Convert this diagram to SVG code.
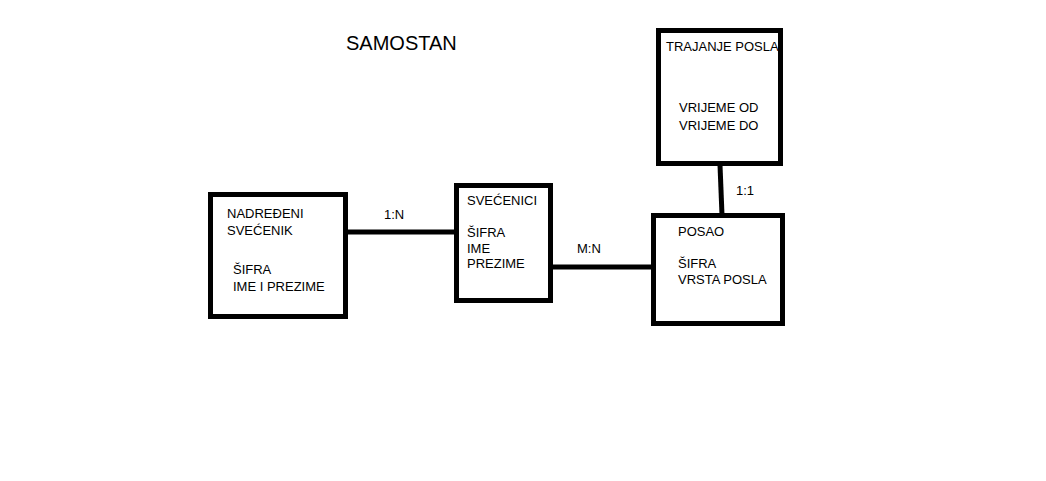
<svg xmlns="http://www.w3.org/2000/svg" width="1046" height="481" viewBox="0 0 1046 481">
<style>
.box{fill:#fff;stroke:#000;stroke-width:5}
.ln{stroke:#000;stroke-width:5;fill:none}
text{font-family:"Liberation Sans",Arial,sans-serif;font-size:13px;fill:#000}
.title{font-size:20px}
</style>
<rect width="1046" height="481" fill="#fff"/>
<text class="title" x="346" y="50">SAMOSTAN</text>
<g id="connectors">
<line class="ln" x1="347" y1="232" x2="455" y2="232"/>
<text x="384" y="219">1:N</text>
<line class="ln" x1="552" y1="267" x2="653" y2="267"/>
<text x="577" y="253">M:N</text>
<line class="ln" x1="720" y1="165" x2="722" y2="215"/>
<text x="736" y="195">1:1</text>
</g>
<g id="nadredjeni">
<rect class="box" x="210.5" y="194.5" width="135" height="122"/>
<text x="227" y="218">NADREĐENI</text>
<text x="227" y="235">SVEĆENIK</text>
<text x="233" y="274">ŠIFRA</text>
<text x="233" y="291">IME I PREZIME</text>
</g>
<g id="svecenici">
<rect class="box" x="456.5" y="185.5" width="94" height="115"/>
<text x="467" y="205">SVEĆENICI</text>
<text x="467" y="237">ŠIFRA</text>
<text x="467" y="253">IME</text>
<text x="467" y="268">PREZIME</text>
</g>
<g id="posao">
<rect class="box" x="653.5" y="215.5" width="129" height="108"/>
<text x="678" y="236">POSAO</text>
<text x="678" y="268">ŠIFRA</text>
<text x="678" y="284">VRSTA POSLA</text>
</g>
<g id="trajanje">
<rect class="box" x="658.5" y="30.5" width="122" height="133"/>
<text x="666" y="51">TRAJANJE POSLA</text>
<text x="679" y="112">VRIJEME OD</text>
<text x="679" y="130">VRIJEME DO</text>
</g>
</svg>
